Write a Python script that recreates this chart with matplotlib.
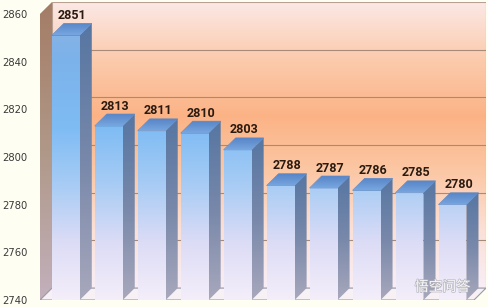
import numpy as np
import matplotlib.pyplot as plt
from matplotlib.colors import LinearSegmentedColormap
from matplotlib.patches import Polygon
import matplotlib.patheffects as pe

values = [2851, 2813, 2811, 2810, 2803, 2788, 2787, 2786, 2785, 2780]
yticks = [2740, 2760, 2780, 2800, 2820, 2840, 2860]

x0, x1 = -0.6, 9.5
y0, y1 = 2740, 2860
dx, dy = 0.28, 5.0
w = 0.65

fig = plt.figure(figsize=(4.89, 3.07), dpi=100, facecolor='#fefef2')
ax = fig.add_axes([40 / 489, 7 / 307, 446 / 489, 298 / 307])
ax.set_xlim(x0, x1 + dx)
ax.set_ylim(y0, y1 + dy)
ax.patch.set_visible(False)
for s in ax.spines.values():
    s.set_visible(False)
ax.set_xticks([])
ax.set_yticks(yticks)
ax.tick_params(axis='y', length=0, pad=9, labelsize=7.2, labelcolor='#3a3a3a')

grad = np.linspace(0, 1, 256).reshape(-1, 1)


def shade(poly, cmap, ext, z):
    ax.add_patch(poly)
    im = ax.imshow(grad, cmap=cmap, extent=ext, origin='lower', aspect='auto',
                   zorder=z, interpolation='bilinear')
    im.set_clip_path(poly)


# back wall
wall = LinearSegmentedColormap.from_list('wall', [
    (0, '#f8eef6'), (0.2, '#fbe0d6'), (0.42, '#fcc6a2'), (0.6, '#fbb386'),
    (0.8, '#fccbad'), (1, '#fbe9e6')])
back = Polygon([(x0 + dx, y0 + dy), (x1 + dx, y0 + dy), (x1 + dx, y1 + dy), (x0 + dx, y1 + dy)],
               closed=True, fc='none', ec='#b8a090', lw=0.8, zorder=1)
shade(back, wall, (x0 + dx, x1 + dx, y0 + dy, y1 + dy), 0)
ax.hlines(np.array(yticks[1:-1]) + dy, x0 + dx, x1 + dx, color='#a88a78', lw=0.8, zorder=1)

# left wall
lw_cmap = LinearSegmentedColormap.from_list('lw', ['#c2b0bc', '#b09888', '#a47c66'])
left = Polygon([(x0, y0), (x0 + dx, y0 + dy), (x0 + dx, y1 + dy), (x0, y1)],
               closed=True, fc='none', ec='none', zorder=1)
shade(left, lw_cmap, (x0, x0 + dx, y0, y1 + dy), 0.5)

# floor
ax.add_patch(Polygon([(x0, y0), (x1, y0), (x1 + dx, y0 + dy), (x0 + dx, y0 + dy)],
                     closed=True, fc='#f7f0f4', ec='#9a9aa8', lw=0.8, zorder=1.5))

front_cmap = LinearSegmentedColormap.from_list('front', [
    (0, '#f4eefa'), (0.2, '#dcdcf6'), (0.4, '#a8ccf4'), (0.6, '#7fbcf4'),
    (0.85, '#7cb2ea'), (1, '#8cb4e2')])
side_cmap = LinearSegmentedColormap.from_list('side', ['#a8a8bc', '#7888aa', '#5676a2'])
top_cmap = LinearSegmentedColormap.from_list('top', ['#78a6e0', '#5886c8'])

for i, v in enumerate(values):
    z = 2 + i * 0.1
    l, r = i - w / 2, i + w / 2
    front = Polygon([(l, y0), (r, y0), (r, v), (l, v)], closed=True, fc='none', ec='none', zorder=z)
    ax.add_patch(front)
    frac = (v - y0) / (y1 - y0)
    im = ax.imshow(np.linspace(0, frac, 256).reshape(-1, 1), cmap=front_cmap, vmin=0, vmax=1,
                   extent=(l, r, y0, v), origin='lower', aspect='auto', zorder=z,
                   interpolation='bilinear')
    im.set_clip_path(front)
    side = Polygon([(r, y0), (r + dx, y0 + dy), (r + dx, v + dy), (r, v)],
                   closed=True, fc='none', ec='none', zorder=z)
    shade(side, side_cmap, (r, r + dx, y0, v + dy), z)
    top = Polygon([(l, v), (r, v), (r + dx, v + dy), (l + dx, v + dy)],
                  closed=True, fc='none', ec='#5a86c0', lw=0.5, zorder=z + 0.05)
    shade(top, top_cmap, (l, r + dx, v, v + dy), z + 0.05)
    ax.text(i + dx / 2, v + dy + 0.6, str(v), ha='center', va='bottom', fontsize=9,
            family=['Roboto', 'DejaVu Sans'],
            fontweight='bold', color='#2a1a10', zorder=5)

fig.text(0.905, 0.065, '悟空问答', family=['Noto Sans CJK SC', 'DejaVu Sans'],
         fontsize=10, color='white', alpha=0.9, ha='center', va='center',
         path_effects=[pe.withStroke(linewidth=1, foreground='#b0b0b8')])

fig.savefig('out.png', dpi=100, facecolor=fig.get_facecolor())
